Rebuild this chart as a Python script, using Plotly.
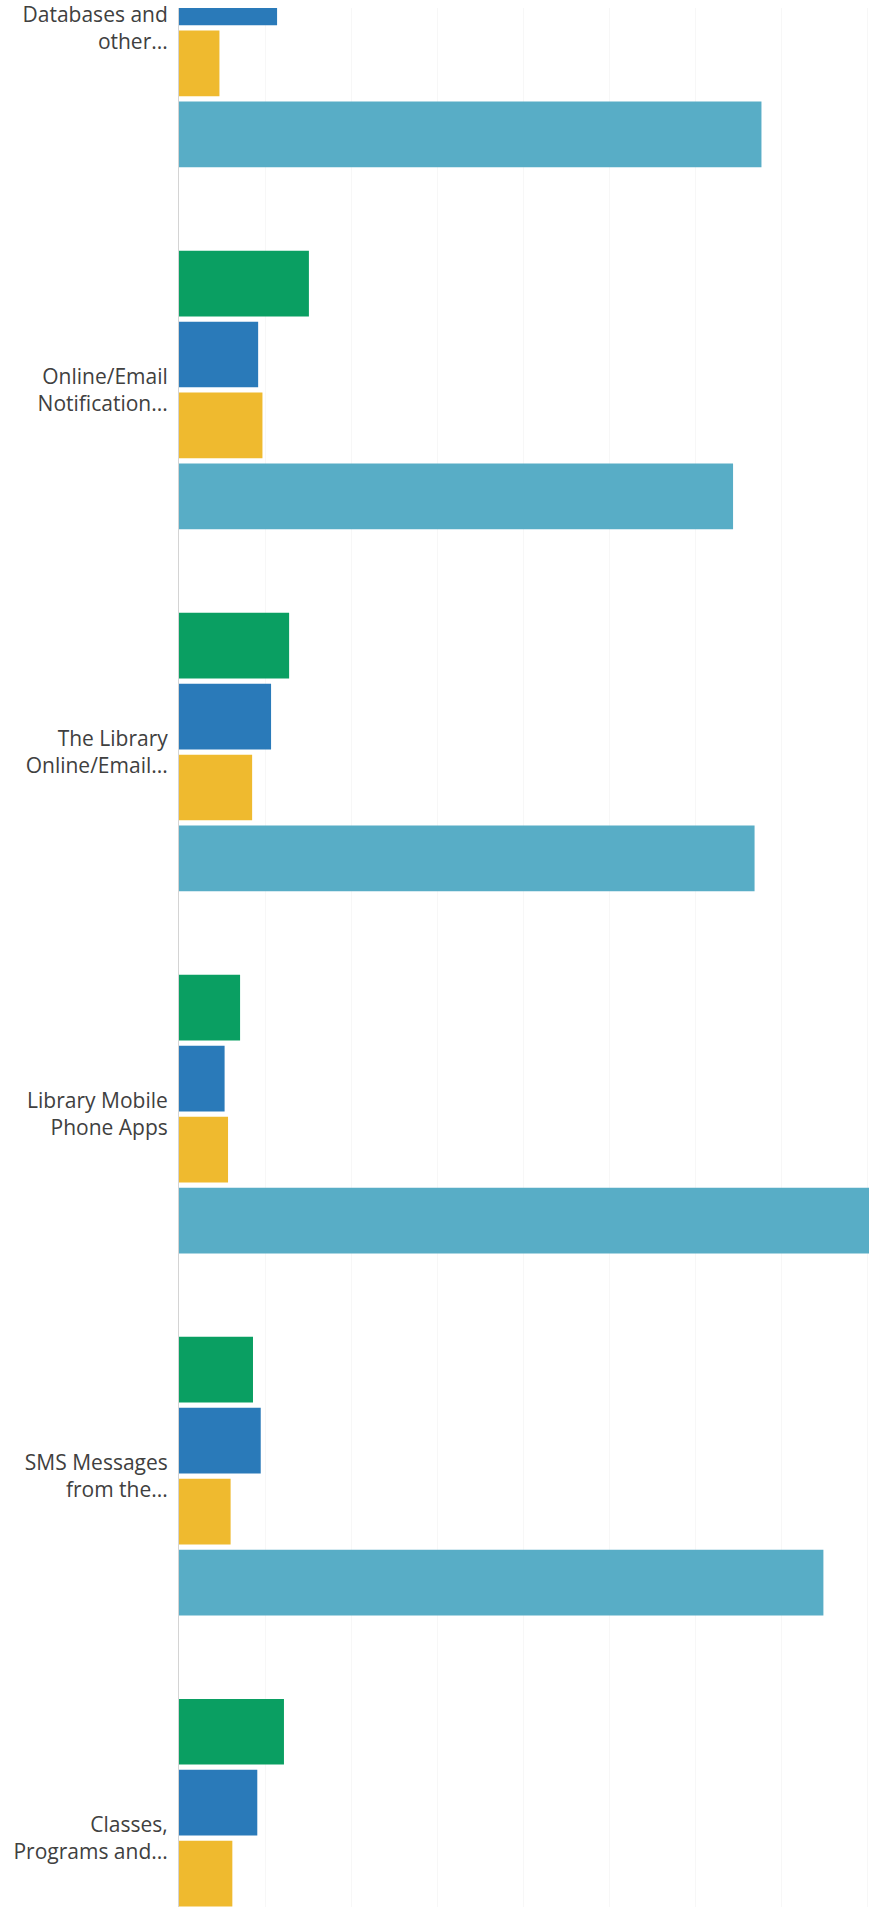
import plotly.graph_objects as go

categories = [
    "Databases and<br>other...",
    "Online/Email<br>Notification...",
    "The Library<br>Online/Email...",
    "Library Mobile<br>Phone Apps",
    "SMS Messages<br>from the...",
    "Classes,<br>Programs and...",
]

series_names = ["Series A", "Series B", "Series C", "Series D"]
green_vals = [16.0, 15.1, 12.8, 7.1, 8.6, 12.2]
blue_vals = [11.4, 9.2, 10.7, 5.3, 9.5, 9.1]
yellow_vals = [4.7, 9.7, 8.5, 5.7, 6.0, 6.2]
lightblue_vals = [67.7, 64.4, 66.9, 82.0, 74.9, 72.0]

colors = ["#0a9f62", "#2a7ab9", "#efba2f", "#58adc6"]
values = [green_vals, blue_vals, yellow_vals, lightblue_vals]

fig = go.Figure()
for name, vals, col in zip(series_names, values, colors):
    fig.add_trace(go.Bar(
        y=categories, x=vals, orientation="h", name=name,
        marker=dict(color=col, line=dict(width=0)),
    ))

fig.update_layout(
    width=869, height=1907,
    margin=dict(l=179, r=0, t=0, b=0),
    paper_bgcolor="white", plot_bgcolor="white",
    barmode="group", bargap=0.216, bargroupgap=0.074,
    showlegend=False,
    font=dict(family="Open Sans", size=21, color="#404040"),
)
fig.update_xaxes(
    range=[0, 80.2], dtick=10, showgrid=True, gridcolor="#f7f7f7", gridwidth=1,
    showticklabels=False, zeroline=False, showline=False,
)
fig.update_yaxes(
    type="category", range=[5.19, -0.055],
    showline=True, linecolor="#d4d4d4", linewidth=1,
    showgrid=False, ticks="", ticklabelstandoff=6,
    tickfont=dict(family="Open Sans", size=21, color="#404040"),
)

fig.write_html("out.html", config={"displayModeBar": False},
               post_script="document.body.style.margin='0';")
